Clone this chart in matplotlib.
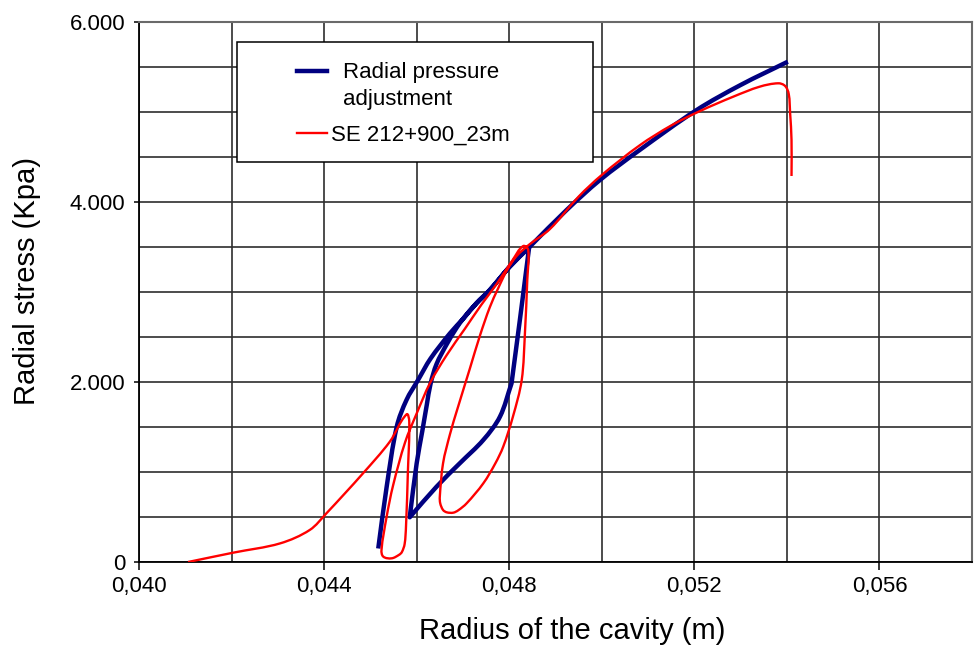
import numpy as np
import matplotlib
matplotlib.use("Agg")
import matplotlib.pyplot as plt
from matplotlib.lines import Line2D
from matplotlib.patches import Rectangle, PathPatch
from matplotlib.path import Path
from matplotlib.ticker import FixedLocator, MultipleLocator, FuncFormatter

plt.rcParams['font.family'] = ['Liberation Sans', 'DejaVu Sans']

# Radial pressure adjustment (model): radius of cavity (m) vs radial stress (kPa)
model_radius = [0.04517, 0.04535, 0.04557, 0.04578, 0.04603, 0.04630, 0.04672, 0.04700,
                0.04729, 0.04758, 0.04801, 0.04843,
                0.04834, 0.04823, 0.04805, 0.04780, 0.04744, 0.04693, 0.04643, 0.04585,
                0.04600, 0.04612, 0.04622, 0.04630, 0.04643, 0.04665, 0.04686, 0.04700,
                0.04729, 0.04758, 0.04801, 0.04843,
                0.04924, 0.04996, 0.05082, 0.05205, 0.05300, 0.05402]
model_stress = [150, 830, 1504, 1800, 2022, 2260, 2541, 2700,
                2874, 3022, 3281, 3496,
                3133, 2689, 1985, 1615, 1356, 1096, 837, 497,
                1096, 1450, 1750, 1980, 2200, 2420, 2600, 2700,
                2874, 3022, 3281, 3496,
                3911, 4244, 4578, 5022, 5300, 5559]

# Pressuremeter test SE 212+900_23m
test_radius = [0.04106, 0.04204, 0.04305, 0.04369, 0.04405, 0.04484, 0.04542, 0.04578,
               0.04584, 0.04581, 0.04577, 0.04574, 0.04568, 0.04562, 0.04546, 0.04528, 0.04524,
               0.04535, 0.04549, 0.04575, 0.04600, 0.04629, 0.04665, 0.04704, 0.04740,
               0.04773, 0.04808, 0.04830, 0.04841,
               0.04839, 0.04834, 0.04827, 0.04808, 0.04787, 0.04770, 0.04744, 0.04708,
               0.04690, 0.04679, 0.04665, 0.04657, 0.04651, 0.04650, 0.04657, 0.04672,
               0.04688, 0.04715, 0.04737, 0.04758, 0.04776, 0.04796, 0.04816, 0.04844,
               0.04888, 0.04950, 0.05000, 0.05082, 0.05150, 0.05212, 0.05284, 0.05341,
               0.05381, 0.05396, 0.05404, 0.05407, 0.05410, 0.05410]
test_stress = [0, 104, 207, 356, 541, 985, 1337, 1640,
               1560, 1000, 400, 200, 110, 80, 41, 59, 133,
               500, 850, 1330, 1650, 1990, 2300, 2590, 2860,
               3090, 3360, 3510, 3467,
               3133, 2550, 2022, 1615, 1281, 1096, 874, 652,
               575, 548, 552, 578, 650, 726, 1096, 1420,
               1700, 2150, 2520, 2830, 3040, 3250, 3400, 3530,
               3700, 4060, 4300, 4630, 4850, 5010, 5170, 5281,
               5319, 5290, 5200, 4985, 4689, 4289]

legend_labels = ["Radial pressure\nadjustment", "SE 212+900_23m"]
x_ticks = [0.040, 0.044, 0.048, 0.052, 0.056]
y_ticks = [0, 2000, 4000, 6000]

W, H = 975, 648
fig = plt.figure(figsize=(W / 100, H / 100), dpi=100)
ax = fig.add_axes([139 / W, 1 - 562 / H, (972 - 139) / W, 540 / H])
ax.set_xlim(0.040, 0.058)
ax.set_ylim(0, 6000)


def smooth_path(ax, xs, ys, corners=()):
    """Smoothed polyline (cubic Bezier through every point), built in
    display space so the curvature looks right on screen."""
    pts = ax.transData.transform(np.column_stack([xs, ys]))
    n = len(pts)
    tang = np.zeros_like(pts)
    for i in range(n):
        if i == 0 or i == n - 1 or i in corners:
            continue
        d = pts[i + 1] - pts[i - 1]
        L = np.hypot(*d)
        tang[i] = d / L if L > 0 else 0
    verts = [pts[0]]
    codes = [Path.MOVETO]
    for i in range(n - 1):
        p1, p2 = pts[i], pts[i + 1]
        seg = p2 - p1
        L = np.hypot(*seg)
        u = seg / L if L > 0 else seg
        t1 = tang[i] if np.any(tang[i]) else u
        t2 = tang[i + 1] if np.any(tang[i + 1]) else u
        c1 = p1 + t1 * L / 3
        c2 = p2 - t2 * L / 3
        verts += [c1, c2, p2]
        codes += [Path.CURVE4] * 3
    verts = ax.transData.inverted().transform(np.array(verts))
    return Path(verts, codes)


ax.add_patch(PathPatch(smooth_path(ax, model_radius, model_stress, corners=(11, 14, 19)),
                       fill=False, edgecolor='#000080', lw=3.2,
                       joinstyle='round', capstyle='butt', zorder=3))
ax.add_patch(PathPatch(smooth_path(ax, test_radius, test_stress),
                       fill=False, edgecolor='#ff0000', lw=1.7,
                       joinstyle='round', capstyle='butt', zorder=4))

ax.xaxis.set_major_locator(FixedLocator(x_ticks))
ax.xaxis.set_minor_locator(MultipleLocator(0.002))
ax.yaxis.set_major_locator(FixedLocator(y_ticks))
ax.yaxis.set_minor_locator(MultipleLocator(500))
ax.xaxis.set_major_formatter(FuncFormatter(lambda v, p: f"{v:.3f}".replace('.', ',')))
ax.yaxis.set_major_formatter(FuncFormatter(
    lambda v, p: "0" if v == 0 else f"{int(v):,}".replace(',', '.')))

ax.grid(which='both', color='#2e2e2e', lw=1.2, zorder=1)
ax.set_axisbelow(True)
ax.tick_params(axis='x', which='major', length=6, width=1.1, pad=4,
               labelsize=16, direction='out')
ax.tick_params(axis='y', which='major', length=3.5, width=1.1, pad=6.5,
               labelsize=16, direction='out')
ax.tick_params(which='minor', length=0)

for side in ('left', 'bottom'):
    ax.spines[side].set_color('black')
    ax.spines[side].set_linewidth(1.3)
for side in ('top', 'right'):
    ax.spines[side].set_color('#6a6a6a')
    ax.spines[side].set_linewidth(1.5)


def fx(px):
    return px / W


def fy(py):
    return 1 - py / H


fig.text(fx(572), fy(631), "Radius of the cavity (m)", fontsize=21,
         ha='center', va='center')
fig.text(fx(27), fy(281), "Radial stress (Kpa)", fontsize=21,
         ha='center', va='center', rotation=90)

# Legend box
fig.patches.append(Rectangle((fx(237), fy(162)), fx(593) - fx(237), fy(42) - fy(162),
                             transform=fig.transFigure, facecolor='white',
                             edgecolor='black', lw=1.1, zorder=5))
fig.lines.append(Line2D([fx(297), fx(327)], [fy(71), fy(71)], transform=fig.transFigure,
                        color='#000080', lw=3.2, zorder=6))
fig.lines.append(Line2D([fx(297), fx(327)], [fy(133), fy(133)], transform=fig.transFigure,
                        color='#ff0000', lw=1.7, zorder=6))
fig.text(fx(343), fy(78), legend_labels[0].split("\n")[0], fontsize=16,
         va='baseline', ha='left', zorder=7)
fig.text(fx(343), fy(105), legend_labels[0].split("\n")[1], fontsize=16,
         va='baseline', ha='left', zorder=7)
fig.text(fx(331), fy(141), legend_labels[1], fontsize=16,
         va='baseline', ha='left', zorder=7)

fig.savefig("out.png", dpi=100)
